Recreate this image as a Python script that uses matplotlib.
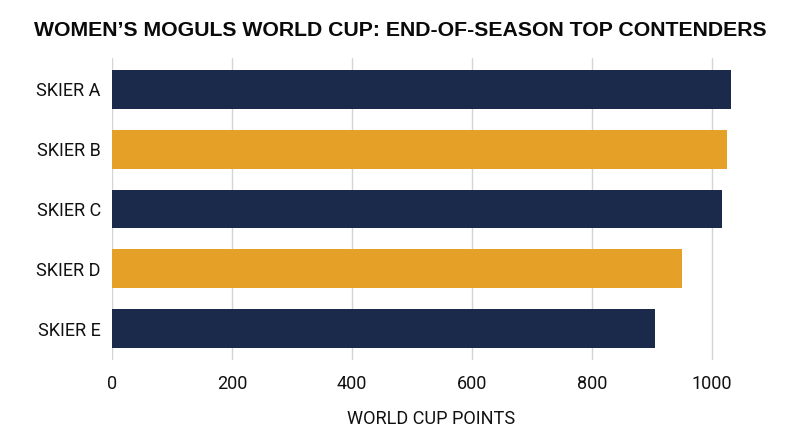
import matplotlib
matplotlib.use("Agg")
import matplotlib.pyplot as plt
from matplotlib import font_manager

# ----------------------
# DATA
# ----------------------

skiers = ["SKIER A", "SKIER B", "SKIER C", "SKIER D", "SKIER E"]
points = [1032, 1024, 1016, 950, 904]
bar_colors = ["#1b2a4a", "#e5a028", "#1b2a4a", "#e5a028", "#1b2a4a"]
x_ticks = [0, 200, 400, 600, 800, 1000]

# pick a narrow font for labels if present
names = {f.name for f in font_manager.fontManager.ttflist}
label_font = "Liberation Sans Narrow" if "Liberation Sans Narrow" in names else "Roboto"

# ----------------------
# CHART
# ----------------------

fig = plt.figure(figsize=(8, 4.47), dpi=100)
ax = fig.add_axes([0.14, 0.195, 0.7975, 0.675])

ax.barh(range(len(skiers)), points, height=0.65, color=bar_colors, zorder=2)

ax.set_ylim(len(skiers) - 0.48, -0.52)
ax.set_xlim(0, 1063)
ax.set_yticks(range(len(skiers)))
ax.set_yticklabels(skiers, fontsize=13, family=label_font, color="#111111")
ax.set_xticks(x_ticks)
ax.set_xticklabels([str(v) for v in x_ticks], fontsize=13, family=label_font, color="#111111")

ax.tick_params(axis="y", length=0, pad=8)
ax.tick_params(axis="x", length=0, pad=11)

ax.grid(axis="x", color="#d4d4d4", linewidth=1, zorder=0)
for s in ax.spines.values():
    s.set_visible(False)

ax.set_xlabel("WORLD CUP POINTS", fontsize=13.1, family=label_font, color="#111111", labelpad=12)

fig.text(0.5, 0.932, "WOMEN\u2019S MOGULS WORLD CUP: END-OF-SEASON TOP CONTENDERS",
         ha="center", va="center", fontsize=15.3, fontweight="bold",
         family="Liberation Sans", color="#0a0a0a")

plt.savefig("out.png", dpi=100)
